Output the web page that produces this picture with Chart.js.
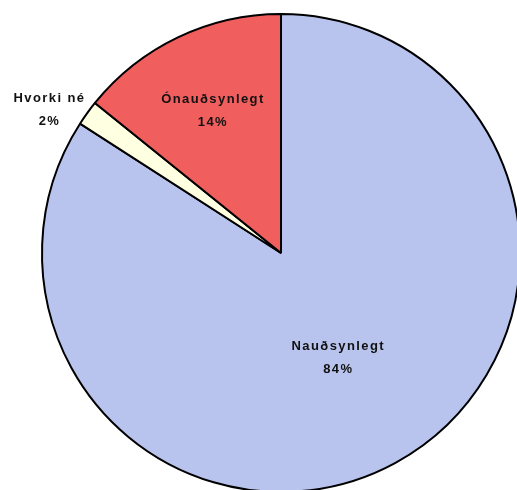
<!DOCTYPE html>
<html>
<head>
<meta charset="utf-8">
<script src="https://cdn.jsdelivr.net/npm/chart.js@4"></script>
<style>
  html, body { margin: 0; padding: 0; overflow: hidden; background: #fff; }
  #wrap { position: relative; width: 517px; height: 490px; overflow: hidden; }
  #pie { position: absolute; left: 0; top: 0; }
</style>
</head>
<body>
<div id="wrap"><canvas id="pie" width="562" height="506"></canvas></div>
<script>
// flokkar og hlutföll
var labels = ['Nauðsynlegt', 'Hvorki né', 'Ónauðsynlegt'];
var values = [84.1, 1.7, 14.2];
var pctLabels = ['84%', '2%', '14%'];
var colors = ['rgb(185, 196, 238)', 'rgb(255, 255, 225)', 'rgb(240, 94, 94)'];

// textar á sneiðum, reiknað út frá miðhorni sneiðar
var sliceText = {
  id: 'sliceText',
  afterDatasetsDraw: function (chart, args, opts) {
    var ctx = chart.ctx;
    var meta = chart.getDatasetMeta(0);
    ctx.save();
    ctx.font = 'bold 13px "Liberation Sans", Arial, sans-serif';
    ctx.letterSpacing = '1.4px';
    ctx.fillStyle = '#111';
    ctx.textAlign = 'center';
    ctx.textBaseline = 'middle';
    meta.data.forEach(function (arc, i) {
      var p = arc.getProps(['x', 'y', 'startAngle', 'endAngle', 'outerRadius'], true);
      var mid = (p.startAngle + p.endAngle) / 2 + opts.shift[i];
      var r = p.outerRadius * opts.factor[i];
      var x = p.x + Math.cos(mid) * r;
      var y = p.y + Math.sin(mid) * r;
      ctx.fillText(labels[i], x, y - 11);
      ctx.fillText(pctLabels[i], x, y + 12);
    });
    ctx.restore();
  }
};

new Chart(document.getElementById('pie'), {
  type: 'pie',
  data: {
    labels: labels,
    datasets: [{
      data: values,
      backgroundColor: colors,
      borderColor: '#000',
      borderWidth: 2
    }]
  },
  options: {
    responsive: false,
    animation: false,
    layout: { padding: 13 },
    plugins: {
      legend: { display: false },
      tooltip: { enabled: false },
      sliceText: { factor: [0.5, 1.14, 0.66], shift: [0, -0.07, 0] }
    }
  },
  plugins: [sliceText]
});
</script>
</body>
</html>
